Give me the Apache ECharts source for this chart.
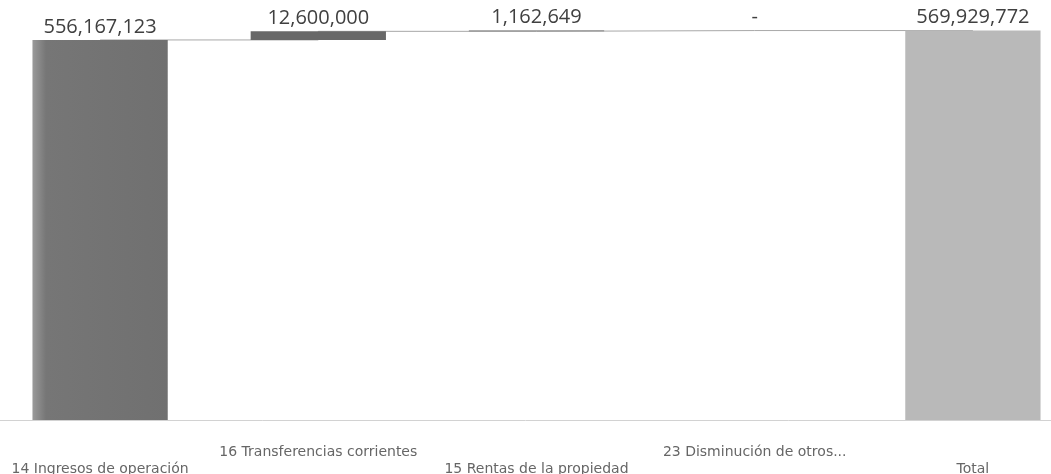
<!DOCTYPE html>
<html>
<head>
<meta charset="utf-8">
<script src="https://cdn.jsdelivr.net/npm/echarts@6/dist/echarts.min.js"></script>
<style>
  html, body { margin: 0; padding: 0; background: #ffffff; }
  #chart { width: 1051px; height: 474px; }
</style>
</head>
<body>
<div id="chart"></div>
<script>
// Waterfall: income items building up to the total
const categories = [
  '14 Ingresos de operación',
  '16 Transferencias corrientes',
  '15 Rentas de la propiedad',
  '23 Disminución de otros...',
  'Total'
];
const amounts = [556167123, 12600000, 1162649, 0];
const total = 569929772;

// Build invisible base + visible step for each bar
const baseValues = [];
const stepValues = [];
const levels = [];
let running = 0;
amounts.forEach(v => {
  baseValues.push(running);
  stepValues.push(v);
  running += v;
  levels.push(running);
});
baseValues.push(0);
stepValues.push(total);
levels.push(total);

const barColors = ['#727272', '#686868', '#6a6a6a', '#6a6a6a', '#b9b9b9'];

const fmt = v => (v === 0 ? '-' : v.toLocaleString('en-US'));

const chart = echarts.init(document.getElementById('chart'), null, { renderer: 'canvas' });
chart.setOption({
  animation: false,
  backgroundColor: '#ffffff',
  grid: { left: -9, right: -31, top: 10, bottom: 54, outerBoundsMode: 'none', containLabel: false },
  xAxis: {
    type: 'category',
    data: categories,
    axisTick: { show: false },
    axisLine: { show: true, lineStyle: { color: '#d2d2d2', width: 1 } },
    axisLabel: {
      interval: 0,
      margin: 24,
      lineHeight: 17,
      color: '#666666',
      fontFamily: 'DejaVu Sans',
      fontSize: 14,
      formatter: (val, idx) => (idx % 2 === 0 ? '\n' + val : val)
    }
  },
  yAxis: {
    type: 'value',
    min: 0,
    max: 600000000,
    show: false,
    splitLine: { show: false }
  },
  series: [
    {
      type: 'line',
      step: 'end',
      data: levels,
      symbol: 'none',
      z: 1,
      lineStyle: { color: '#a8a8a8', width: 1 },
      silent: true
    },
    {
      type: 'bar',
      stack: 'w',
      data: baseValues,
      barWidth: '62%',
      z: 2,
      itemStyle: { color: 'transparent' },
      silent: true
    },
    {
      type: 'bar',
      stack: 'w',
      z: 2,
      data: stepValues.map((v, i) => ({
        value: v,
        itemStyle: {
          color: i === 0
            ? new echarts.graphic.LinearGradient(0, 0, 1, 0, [
                { offset: 0, color: '#9a9a9a' },
                { offset: 0.1, color: '#767676' },
                { offset: 1, color: '#707070' }
              ])
            : barColors[i]
        }
      })),
      label: {
        show: true,
        position: 'top',
        distance: 3,
        color: '#404040',
        fontFamily: 'Open Sans',
        fontSize: 20,
        formatter: p => fmt(p.value)
      }
    }
  ]
});
</script>
</body>
</html>
